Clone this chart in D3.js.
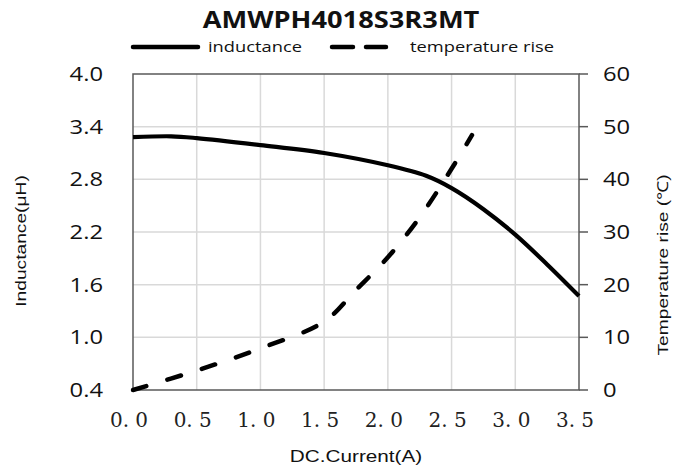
<!DOCTYPE html>
<html>
<head>
<meta charset="utf-8">
<script src="https://cdn.jsdelivr.net/npm/d3@7"></script>
<style>
  body { margin: 0; background: #fff; }
  svg { display: block; }
</style>
</head>
<body>
<svg id="chart" width="682" height="470"></svg>
<script>
const chartTitle = 'AMWPH4018S3R3MT';

// inductance curve (µH) vs DC current (A)
const indCurrent = [0, 0.3, 0.5, 1.0, 1.5, 2.0, 2.3, 2.5, 2.75, 3.0, 3.25, 3.5];
const inductance = [3.28, 3.29, 3.27, 3.19, 3.10, 2.96, 2.84, 2.70, 2.46, 2.17, 1.83, 1.47];

// temperature rise (°C) vs DC current (A)
const tempCurrent = [0, 0.5, 1.0, 1.5, 1.75, 2.0, 2.25, 2.5, 2.66];
const tempRise = [0, 3.7, 7.9, 13, 19, 25.2, 32.8, 42, 48.4];

const xTicks = [0, 0.5, 1.0, 1.5, 2.0, 2.5, 3.0, 3.5];
const leftTicks = [0.4, 1.0, 1.6, 2.2, 2.8, 3.4, 4.0];
const rightTicks = [0, 10, 20, 30, 40, 50, 60];

const margin = { top: 74, right: 103, bottom: 80, left: 133 };
const width = 682 - margin.left - margin.right;
const height = 470 - margin.top - margin.bottom;
const SX = 1.22; // the source image is stretched sideways

const svg = d3.select('#chart');
const g = svg.append('g').attr('transform', `translate(${margin.left},${margin.top})`);

const x = d3.scaleLinear().domain([0, 3.5]).range([0, width]);
const yL = d3.scaleLinear().domain([0.4, 4.0]).range([height, 0]);
const yR = d3.scaleLinear().domain([0, 60]).range([height, 0]);

const label = (sel, px, py, txt, opts) => {
  const t = sel.append('text')
    .attr('transform', `translate(${px},${py})${opts.rotate ? ' rotate(-90)' : ''} scale(${opts.sx || SX},1)`)
    .attr('text-anchor', opts.anchor || 'middle')
    .attr('font-family', opts.font || 'Open Sans, sans-serif')
    .attr('font-size', opts.size)
    .attr('font-weight', opts.weight || 'normal')
    .attr('fill', opts.fill || '#111')
    .text(txt);
  return t;
};

// grid
g.append('g').selectAll('line.vg')
  .data(xTicks.slice(1, -1))
  .join('line')
  .attr('x1', (d) => x(d)).attr('x2', (d) => x(d))
  .attr('y1', 0).attr('y2', height)
  .attr('stroke', '#d9d9d9').attr('stroke-width', 1.5);

g.append('g').selectAll('line.hg')
  .data(leftTicks.slice(1, -1))
  .join('line')
  .attr('x1', 0).attr('x2', width)
  .attr('y1', (d) => yL(d)).attr('y2', (d) => yL(d))
  .attr('stroke', '#d9d9d9').attr('stroke-width', 1.5);

// frame
g.append('rect')
  .attr('width', width).attr('height', height)
  .attr('fill', 'none').attr('stroke', '#595959').attr('stroke-width', 1.5);

// right axis tick marks
g.append('g').selectAll('line')
  .data(rightTicks)
  .join('line')
  .attr('x1', width).attr('x2', width + 9)
  .attr('y1', (d) => yR(d)).attr('y2', (d) => yR(d))
  .attr('stroke', '#595959').attr('stroke-width', 1.5);

// tick labels
leftTicks.forEach((d) => label(g, -30, yL(d) + 7, d.toFixed(1), { anchor: 'end', size: 19.5 }));
rightTicks.forEach((d) => label(g, width + 24, yR(d) + 7, String(d), { anchor: 'start', size: 19.5 }));
xTicks.forEach((d) => {
  const s = d.toFixed(1).replace('.', '. ');
  label(g, x(d) - 4, height + 37, s, { size: 20, font: 'DejaVu Serif, serif', sx: 1.0, fill: '#222' });
});

// axis titles
label(svg, 356, 462, 'DC.Current(A)', { size: 17, font: 'Liberation Sans, Arial, sans-serif' });
label(svg, 26, 241, 'Inductance(μH)', { size: 15, font: 'Liberation Sans, Arial, sans-serif', rotate: true, sx: 1.28 });
label(svg, 668, 265, 'Temperature rise (℃)', { size: 15, font: 'Liberation Sans, Arial, sans-serif', rotate: true, sx: 1.28 });

// curves
const lineL = d3.line().x((d) => x(d[0])).y((d) => yL(d[1])).curve(d3.curveCatmullRom.alpha(0.5));
const lineR = d3.line().x((d) => x(d[0])).y((d) => yR(d[1])).curve(d3.curveCatmullRom.alpha(0.5));

g.append('path')
  .datum(d3.zip(tempCurrent, tempRise))
  .attr('d', lineR)
  .attr('fill', 'none').attr('stroke', '#000').attr('stroke-width', 4.5)
  .attr('stroke-linecap', 'round')
  .attr('stroke-dasharray', '14,22');

g.append('path')
  .datum(d3.zip(indCurrent, inductance))
  .attr('d', lineL)
  .attr('fill', 'none').attr('stroke', '#000').attr('stroke-width', 4.2);

// title and legend
label(svg, 341, 28, chartTitle, { size: 23.5, weight: 'bold', sx: 1.16 });

const legend = svg.append('g');
legend.append('line')
  .attr('x1', 133).attr('x2', 198).attr('y1', 47).attr('y2', 47)
  .attr('stroke', '#000').attr('stroke-width', 4.5).attr('stroke-linecap', 'round');
label(legend, 208, 52, 'inductance', { anchor: 'start', size: 15, sx: 1.22 });
legend.append('line')
  .attr('x1', 332).attr('x2', 386).attr('y1', 47).attr('y2', 47)
  .attr('stroke', '#000').attr('stroke-width', 4.5).attr('stroke-linecap', 'round')
  .attr('stroke-dasharray', '21,13');
label(legend, 410, 52, 'temperature rise', { anchor: 'start', size: 15, sx: 1.22 });
</script>
</body>
</html>
